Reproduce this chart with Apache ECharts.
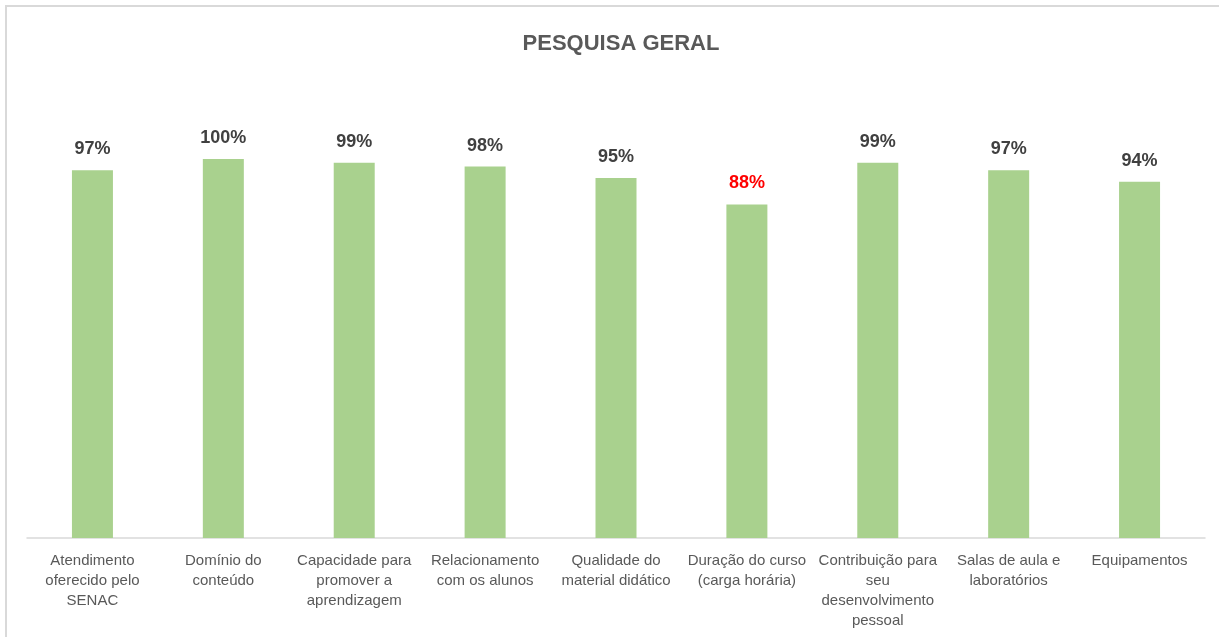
<!DOCTYPE html>
<html>
<head>
<meta charset="utf-8">
<style>
  html, body { margin: 0; padding: 0; background: #fff; }
  #chart { width: 1219px; height: 637px; }
</style>
<script src="https://cdn.jsdelivr.net/npm/echarts@6/dist/echarts.min.js"></script>
</head>
<body>
<div id="chart"></div>
<script>
// categories as they are wrapped under the axis
var categories = [
  'Atendimento\noferecido pelo\nSENAC',
  'Domínio do\nconteúdo',
  'Capacidade para\npromover a\naprendizagem',
  'Relacionamento\ncom os alunos',
  'Qualidade do\nmaterial didático',
  'Duração do curso\n(carga horária)',
  'Contribuição para\nseu\ndesenvolvimento\npessoal',
  'Salas de aula e\nlaboratórios',
  'Equipamentos'
]
var values = [97, 100, 99, 98, 95, 88, 99, 97, 94]
// the lowest score is highlighted in red
var highlightIndex = [5]

var font = '"Liberation Sans", Arial, sans-serif'

var chart = echarts.init(document.getElementById('chart'))

chart.setOption({
  animation: false,
  title: {
    text: 'PESQUISA GERAL',
    left: 616,
    textAlign: 'center',
    top: 28,
    textStyle: {
      color: '#595959',
      fontSize: 22,
      fontWeight: 'bold',
      fontFamily: font
    }
  },
  graphic: [
    {
      type: 'rect',
      shape: { x: 6, y: 6, width: 1300, height: 700 },
      style: { fill: 'none', stroke: '#D9D9D9', lineWidth: 2 },
      silent: true
    }
  ],
  grid: {
    left: 27,
    right: 14,
    top: 159,
    bottom: 99
  },
  xAxis: {
    type: 'category',
    data: categories,
    axisLine: { lineStyle: { color: '#D9D9D9', width: 1.5 } },
    axisTick: { show: false },
    axisLabel: {
      interval: 0,
      margin: 13,
      color: '#595959',
      fontSize: 15,
      lineHeight: 20,
      fontFamily: font
    }
  },
  yAxis: {
    type: 'value',
    min: 0,
    max: 100,
    show: false,
    splitLine: { show: false }
  },
  series: [
    {
      type: 'bar',
      barWidth: 41,
      itemStyle: { color: '#A9D18E' },
      label: {
        show: true,
        position: 'top',
        distance: 12,
        formatter: '{c}%',
        color: '#404040',
        fontSize: 18,
        fontWeight: 'bold',
        fontFamily: font
      },
      data: values.map(function (v, i) {
        if (highlightIndex.indexOf(i) >= 0) {
          return { value: v, label: { color: '#FF0000' } }
        }
        return v
      })
    }
  ]
})
</script>
</body>
</html>
